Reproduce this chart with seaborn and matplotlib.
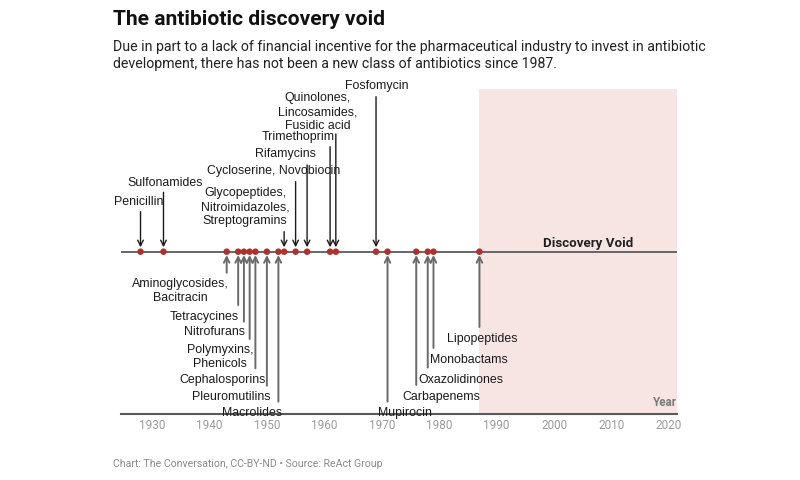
import matplotlib
matplotlib.use("Agg")
import matplotlib.pyplot as plt
import seaborn as sns
import pandas as pd

# ---------------- data ----------------
years = [1928, 1932, 1943, 1945, 1946, 1947, 1948, 1950, 1952, 1953,
         1955, 1957, 1961, 1962, 1969, 1971, 1976, 1978, 1979, 1987]
classes = ["Penicillin", "Sulfonamides", "Aminoglycosides,\nBacitracin",
           "Tetracycines", "Nitrofurans", "Polymyxins,\nPhenicols",
           "Cephalosporins", "Pleuromutilins", "Macrolides",
           "Glycopeptides,\nNitroimidazoles,\nStreptogramins",
           "Cycloserine, Novobiocin", "Rifamycins", "Trimethoprim",
           "Quinolones,\nLincosamides,\nFusidic acid", "Fosfomycin",
           "Mupirocin", "Carbapenems", "Oxazolidinones", "Monobactams",
           "Lipopeptides"]
tick_years = [1930, 1940, 1950, 1960, 1970, 1980, 1990, 2000, 2010, 2020]
void_start = 1987

title = "The antibiotic discovery void"
subtitle1 = ("Due in part to a lack of financial incentive for the pharmaceutical "
             "industry to invest in antibiotic")
subtitle2 = "development, there has not been a new class of antibiotics since 1987."
footer = "Chart: The Conversation, CC-BY-ND \u2022 Source: ReAct Group"

# ---------------- layout (pixels of the 800x480 canvas) ----------------
# side, text centre x, text centre y, end of leader line (y)
layout = [
    ("up", 139, 201.7, 211.7), ("up", 165, 183.3, 192.3),
    ("down", 180.5, 291.2, 272.7), ("down", 204.7, 316.7, 305),
    ("down", 214.5, 332.3, 321.7), ("down", 220, 356.7, 339),
    ("down", 222.5, 380, 368.3), ("down", 231.7, 396.7, 385.7),
    ("down", 252.5, 412.7, 401.7), ("up", 245, 207, 231.7),
    ("up", 273.3, 170.7, 181.7), ("up", 285.5, 154, 165),
    ("up", 298, 136.7, 146.7), ("up", 318, 112.2, 134),
    ("up", 377, 85.5, 96.7), ("down", 405, 412.7, 401.7),
    ("down", 441.7, 396.7, 385), ("down", 460.8, 380, 367.7),
    ("down", 469.3, 360, 348), ("down", 482, 339, 327),
]

W, H = 800, 480
X0, X1 = 121, 677          # axes left / right px
Y_TOP, Y_BOT = 89.3, 413.5  # axes top / bottom px
Y_LINE = 251.7              # timeline px
PX_PER_YEAR = (669 - 152) / 90.0


def px2x(px):
    return 1930 + (px - 152) / PX_PER_YEAR


def py2y(py):
    return Y_LINE - py


sns.set_theme(style="white")
plt.rcParams["font.family"] = ["Roboto", "DejaVu Sans"]

fig = plt.figure(figsize=(W / 100, H / 100), dpi=100)
ax = fig.add_axes([X0 / W, (H - Y_BOT) / H, (X1 - X0) / W, (Y_BOT - Y_TOP) / H])
ax.set_xlim(px2x(X0), px2x(X1))
ax.set_ylim(py2y(Y_BOT), py2y(Y_TOP))

renderer = fig.canvas.get_renderer()


def fit_size(text, target_px, **kw):
    t = fig.text(0, 0, text, fontsize=10, **kw)
    for _ in range(3):
        w = t.get_window_extent(renderer).width
        t.set_fontsize(t.get_fontsize() * target_px / w)
    s = t.get_fontsize()
    t.remove()
    return s


# shaded void
ax.axvspan(void_start, px2x(X1), color="#f7e5e4", lw=0, zorder=0)

# timeline
ax.axhline(0, color="#5a5a5a", lw=1.3, zorder=1)

# dots
df = pd.DataFrame({"year": years, "pos": [0] * len(years)})
sns.scatterplot(data=df, x="year", y="pos", ax=ax, color="#b0302c", s=22,
                edgecolor="none", zorder=3, legend=False)

lab_size = fit_size("Sulfonamides", 75.4, family="Liberation Sans")

for yr, lab, (side, cx, cy, ly) in zip(years, classes, layout):
    if side == "up":
        ax.annotate("", xy=(yr, py2y(Y_LINE - 4.4)), xytext=(yr, py2y(ly)),
                    arrowprops=dict(arrowstyle="->", color="#1a1a1a", lw=1.0,
                                    shrinkA=0, shrinkB=0, mutation_scale=10),
                    zorder=2)
    else:
        ax.annotate("", xy=(yr, py2y(Y_LINE + 3.3)), xytext=(yr, py2y(ly)),
                    arrowprops=dict(arrowstyle="->", color="#6a6a6a", lw=1.4,
                                    shrinkA=0, shrinkB=0, mutation_scale=10),
                    zorder=2)
    ax.text(px2x(cx), py2y(cy), lab, ha="center", va="center",
            fontsize=lab_size, family="Liberation Sans", color="#1a1a1a",
            linespacing=1.2, zorder=4, clip_on=False)

# discovery void label
dv_size = fit_size("Discovery Void", 90, fontweight="bold")
ax.text(px2x(588), py2y(244), "Discovery Void", ha="center", va="center",
        fontsize=dv_size, fontweight="bold", color="#222222", zorder=4)

yr_size = fit_size("Year", 24, fontweight="bold")
ax.text(px2x(677), py2y(403), "Year", ha="right", va="center",
        fontsize=yr_size, fontweight="bold", color="#7a7a7a", zorder=4)

# axes styling
tick_size = fit_size("1930", 26)
ax.set_xticks(tick_years)
ax.set_xticklabels([str(t) for t in tick_years], fontsize=tick_size, color="#9a9a9a")
ax.set_yticks([])
ax.tick_params(axis="x", length=0, pad=4)
ax.set_xlabel("")
ax.set_ylabel("")
for s in ["top", "left", "right"]:
    ax.spines[s].set_visible(False)
ax.spines["bottom"].set_color("#5a5a5a")
ax.spines["bottom"].set_linewidth(1.5)
ax.patch.set_alpha(0)

# titles
t_size = fit_size(title, 270, fontweight="bold")
fig.text(113 / W, 1 - 25 / H, title, fontsize=t_size, fontweight="bold",
         color="#111111", ha="left", va="baseline")
s_size = fit_size(subtitle1, 590)
fig.text(113 / W, 1 - 51.5 / H, subtitle1, fontsize=s_size, color="#222222",
         ha="left", va="baseline")
fig.text(113 / W, 1 - 68 / H, subtitle2, fontsize=s_size, color="#222222",
         ha="left", va="baseline")
f_size = fit_size(footer, 268)
fig.text(113 / W, 1 - 464 / H, footer, fontsize=f_size, color="#8a8a8a",
         ha="left", va="center")

fig.savefig("out.png", dpi=100, facecolor="white")
